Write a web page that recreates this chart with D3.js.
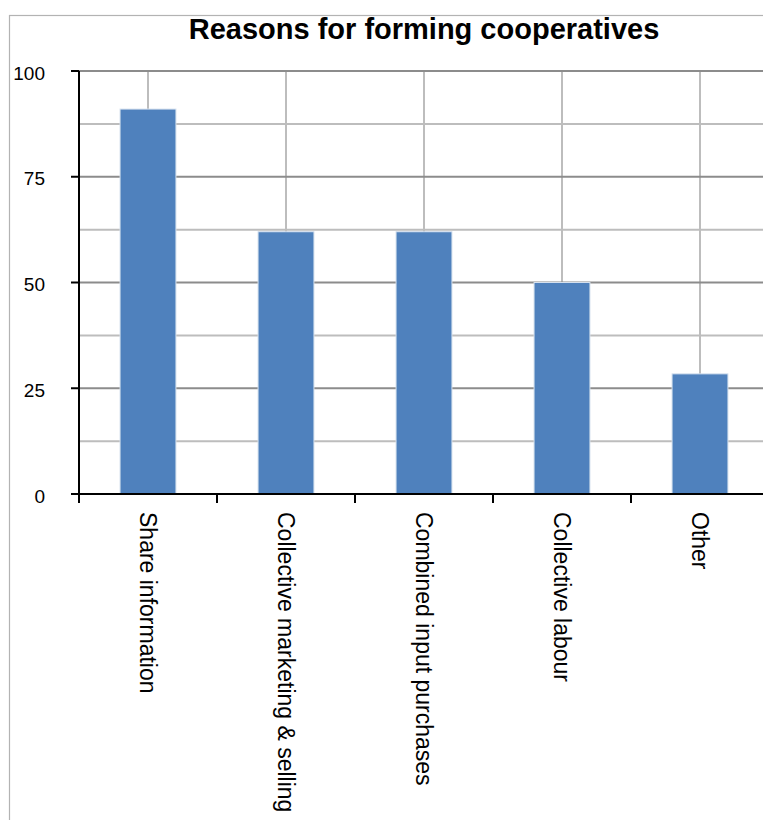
<!DOCTYPE html>
<html>
<head>
<meta charset="utf-8">
<script src="https://cdn.jsdelivr.net/npm/d3@7.9.0/dist/d3.min.js"></script>
<style>
  html, body { margin: 0; padding: 0; background: #fff; }
  svg { display: block; font-family: Arial, 'Liberation Sans', sans-serif; }
</style>
</head>
<body>
<svg id="chart" width="763" height="820"></svg>
<script>
const TITLE = 'Reasons for forming cooperatives';
const categories = [
  'Share information',
  'Collective marketing & selling',
  'Combined input purchases',
  'Collective labour',
  'Other',
];
const values = [91, 62, 62, 50, 28.4];
const majorTicks = [0, 25, 50, 75, 100];
const minorTicks = [12.5, 37.5, 62.5, 87.5];

const margin = { left: 79, top: 71, right: 769, bottom: 494 };
const svg = d3.select('#chart');

const x = d3.scaleBand()
  .domain(categories)
  .range([margin.left, margin.right])
  .paddingInner(0.595)
  .paddingOuter(0.2975);

const xCell = d3.scaleBand()
  .domain(categories)
  .range([margin.left, margin.right]);

const y = d3.scaleLinear().domain([0, 100]).range([margin.bottom, margin.top]);

// outer chart frame
svg.append('rect')
  .attr('x', 9.5)
  .attr('y', 15.5)
  .attr('width', 800)
  .attr('height', 900)
  .attr('fill', 'none')
  .attr('stroke', '#b3b3b3')
  .attr('stroke-width', 1.2);

svg.append('text')
  .attr('x', 424)
  .attr('y', 39)
  .attr('text-anchor', 'middle')
  .style('font-size', '29px')
  .style('font-weight', 'bold')
  .text(TITLE);

// gridlines
const grid = svg.append('g');

grid.selectAll('line.minor')
  .data(minorTicks)
  .join('line')
  .attr('class', 'minor')
  .attr('x1', margin.left)
  .attr('x2', margin.right)
  .attr('y1', (d) => y(d))
  .attr('y2', (d) => y(d))
  .attr('stroke', '#bdbdbd')
  .attr('stroke-width', 2);

grid.selectAll('line.vert')
  .data(categories)
  .join('line')
  .attr('class', 'vert')
  .attr('x1', (d) => xCell(d) + xCell.bandwidth() / 2)
  .attr('x2', (d) => xCell(d) + xCell.bandwidth() / 2)
  .attr('y1', margin.top)
  .attr('y2', margin.bottom)
  .attr('stroke', '#bdbdbd')
  .attr('stroke-width', 2);

grid.selectAll('line.major')
  .data(majorTicks.filter((d) => d > 0))
  .join('line')
  .attr('class', 'major')
  .attr('x1', margin.left)
  .attr('x2', margin.right)
  .attr('y1', (d) => y(d))
  .attr('y2', (d) => y(d))
  .attr('stroke', '#8c8c8c')
  .attr('stroke-width', 2);

// bars
svg.append('g')
  .selectAll('rect')
  .data(values)
  .join('rect')
  .attr('x', (d, i) => x(categories[i]))
  .attr('y', (d) => y(d))
  .attr('width', x.bandwidth())
  .attr('height', (d) => y(0) - y(d))
  .attr('fill', '#4f81bd')
  .attr('stroke', '#d5e0ee')
  .attr('stroke-width', 1);

// y axis
const yAxis = svg.append('g');

yAxis.append('line')
  .attr('x1', margin.left)
  .attr('x2', margin.left)
  .attr('y1', margin.top)
  .attr('y2', margin.bottom + 1)
  .attr('stroke', '#000')
  .attr('stroke-width', 2);

yAxis.selectAll('line.tick')
  .data(majorTicks)
  .join('line')
  .attr('class', 'tick')
  .attr('x1', margin.left - 8)
  .attr('x2', margin.left)
  .attr('y1', (d) => y(d))
  .attr('y2', (d) => y(d))
  .attr('stroke', '#000')
  .attr('stroke-width', 2);

yAxis.selectAll('text')
  .data(majorTicks)
  .join('text')
  .attr('x', 45)
  .attr('y', (d) => y(d) + 2)
  .attr('text-anchor', 'end')
  .attr('dominant-baseline', 'central')
  .style('font-size', '19px')
  .text((d) => d);

// x axis
const xAxis = svg.append('g');

xAxis.append('line')
  .attr('x1', margin.left - 8)
  .attr('x2', margin.right)
  .attr('y1', margin.bottom)
  .attr('y2', margin.bottom)
  .attr('stroke', '#000')
  .attr('stroke-width', 2);

const boundaries = categories.map((d) => xCell(d)).concat([margin.right]);

xAxis.selectAll('line.tick')
  .data(boundaries)
  .join('line')
  .attr('class', 'tick')
  .attr('x1', (d) => d)
  .attr('x2', (d) => d)
  .attr('y1', margin.bottom)
  .attr('y2', margin.bottom + 9)
  .attr('stroke', '#000')
  .attr('stroke-width', 2);

xAxis.selectAll('text')
  .data(categories)
  .join('text')
  .attr('transform', (d) => `translate(${xCell(d) + xCell.bandwidth() / 2},512) rotate(90)`)
  .attr('text-anchor', 'start')
  .attr('dominant-baseline', 'central')
  .style('font-size', '23px')
  .text((d) => d);
</script>
</body>
</html>
